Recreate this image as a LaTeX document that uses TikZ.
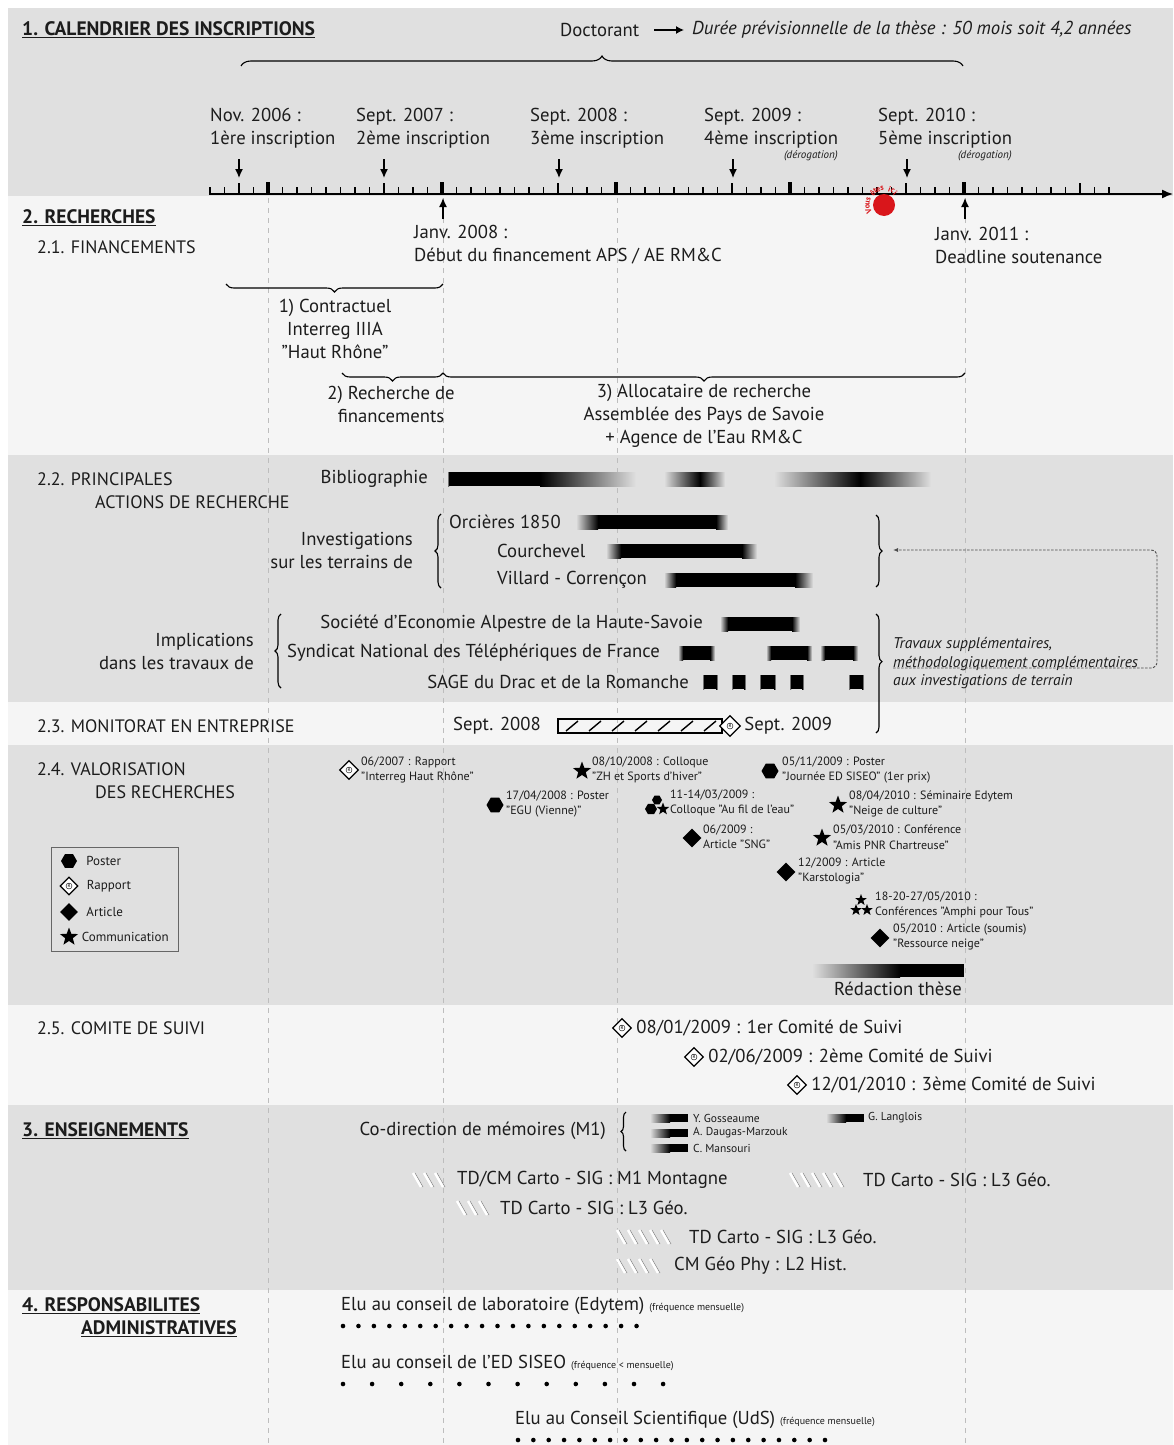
\documentclass[tikz,border=0pt]{standalone}
\usepackage{fontspec}
\setmainfont{PT Sans}
\usetikzlibrary{arrows.meta,positioning,shapes.geometric,decorations.pathreplacing}
\definecolor{bandgray}{HTML}{E0E0E0}
\definecolor{bandlight}{HTML}{F5F5F5}
\definecolor{guidegray}{HTML}{BDBDBD}
\definecolor{hereRed}{HTML}{D9161B}
\definecolor{inkgray}{HTML}{1C1C1C}

\begin{document}
\begin{tikzpicture}[
    x=1pt,y=-1pt,>=Latex,
    lbl/.style={inner sep=0pt,text=inkgray,font=\fontsize{18.7}{23}\selectfont},
    lblw/.style={lbl,anchor=west,align=left},
    lble/.style={lbl,anchor=east,align=right},
    headline/.style={inner sep=0pt,anchor=west,text=inkgray,font=\fontsize{19.5}{23}\selectfont\bfseries},
    subhead/.style={inner sep=0pt,anchor=west,text=inkgray,font=\fontsize{18}{23}\selectfont},
    evt/.style={inner sep=0pt,anchor=west,align=left,text=inkgray,font=\fontsize{12}{15.5}\selectfont},
    legtext/.style={inner sep=0pt,anchor=west,text=inkgray,font=\fontsize{13}{14}\selectfont},
    names/.style={inner sep=0pt,anchor=west,text=inkgray,font=\fontsize{11.5}{12}\selectfont},
    smallnote/.style={inner sep=0pt,text=inkgray,font=\fontsize{11}{12}\selectfont\itshape},
    posterm/.style={regular polygon,regular polygon sides=6,fill=black,inner sep=0pt,minimum size=17pt},
    articlem/.style={diamond,fill=black,inner sep=0pt,minimum size=19pt},
    commm/.style={star,star points=5,star point ratio=2.4,fill=black,inner sep=0pt,minimum size=19pt},
    rapportm/.style={diamond,draw=black,line width=1.3pt,fill=white,inner sep=0pt,minimum size=19pt,
      font=\fontsize{5}{5}\selectfont,
      path picture={\draw[line width=.4pt] (path picture bounding box.center) circle (3pt);}},
    curly/.style={decorate,decoration={brace,amplitude=#1},line width=1.1pt},
    curly/.default=8pt,
    guide/.style={draw=guidegray,line width=.6pt,dash pattern=on 5pt off 5pt},
    insarrow/.style={-{Latex[length=9pt,width=8pt]},line width=1.3pt},
    dashlink/.style={-{Latex[length=5pt,width=4pt]},line width=.9pt,dash pattern=on 2.5pt off 1.5pt,draw=black!70},
    hatchw/.style={white,line width=2.4pt},
    hatchk/.style={black!45,line width=.6pt}
  ]
  \useasboundingbox (0,0) rectangle (1173,1445);
  \fill[white] (0,0) rectangle (1173,1445);
  \fill[bandgray] (8,8) rectangle (1173,196);
  \fill[bandlight] (8,196) rectangle (1173,455);
  \fill[bandgray] (8,455) rectangle (1173,702);
  \fill[bandlight] (8,702) rectangle (1173,745);
  \fill[bandgray] (8,745) rectangle (1173,1005);
  \fill[bandlight] (8,1005) rectangle (1173,1105);
  \fill[bandgray] (8,1105) rectangle (1173,1290);
  \fill[bandlight] (8,1290) rectangle (1173,1445);

  \foreach \gx in {268,443,617,965}
    \draw[guide] (\gx,198) -- (\gx,1445);

  \node[headline] (calendrier) at (22,30) {\underline{1. CALENDRIER DES INSCRIPTIONS}};
  \node[lblw] (doctorant) at (560,30) {Doctorant};
  \node[lblw,font=\fontsize{18.7}{23}\selectfont\itshape] (duree) at (692,30)
    {Durée prévisionnelle de la thèse : 50 mois soit 4,2 années};
  \draw[insarrow,-{Latex[length=8pt,width=8pt]}] ([xshift=15pt]doctorant.east) -- ([xshift=-8pt]duree.west);
  \draw[curly=10pt] (241,66) -- (963,66);

  \node[lblw] (ins1) at (210,128.5) {Nov. 2006 :\\1ère inscription};
  \node[lblw] (ins2) at (356,128.5) {Sept. 2007 :\\2ème inscription};
  \node[lblw] (ins3) at (530,128.5) {Sept. 2008 :\\3ème inscription};
  \node[lblw] (ins4) at (704,128.5) {Sept. 2009 :\\4ème inscription};
  \node[lblw] (ins5) at (878,128.5) {Sept. 2010 :\\5ème inscription};
  \node[smallnote,anchor=east] (derog4) at (838,156) {(dérogation)};
  \node[smallnote,anchor=east] (derog5) at (1012,156) {(dérogation)};
  \foreach \n/\x in {1/239,2/384,3/559,4/733,5/907} {
    \coordinate (in\n top) at (\x,159);
    \coordinate (in\n tip) at (\x,178);
    \draw[insarrow] (in\n top) -- (in\n tip);
  }

  \draw[line width=1.3pt] \foreach \m in {0,...,62} {(210+14.5*\m,194.5) -- (210+14.5*\m,186.5)};
  \draw[line width=1.3pt] \foreach \m in {2,12,24,36,48,60} {(210+14.5*\m,194.5) -- (210+14.5*\m,182.5)};
  \foreach \m in {4,16,28,40,52}
    \fill (208.2+14.5*\m,194.5) rectangle ++(3.6,-12.5);
  \coordinate (axisL) at (209,194);
  \coordinate (axisR) at (1173,194);
  \draw[line width=1.4pt,-{Latex[length=11pt,width=9pt]}] (axisL) -- (axisR);

  \node[circle,fill=hereRed,minimum size=22pt,inner sep=0pt] (here) at (884,205) {};
  \foreach \ch/\p in {V/202,o/187,u/173,s/160,ê/134,t/122,e/110,s/97,i/70,c/58,i/46}
    \node[inner sep=0pt,text=hereRed,font=\fontsize{8}{8}\selectfont\bfseries,rotate=\p-90]
      (herech\p) at ([shift={(\p:16.5pt)}]here.center) {\ch};

  \node[headline] (recherches) at (22,218) {\underline{2. RECHERCHES}};
  \node[subhead] (financements) at (37,247) {2.1. FINANCEMENTS};
  \coordinate (j08base) at (443,219);
  \coordinate (j08tip) at (443,198);
  \coordinate (j11base) at (965,219);
  \coordinate (j11tip) at (965,198);
  \draw[insarrow] (j08base) -- (j08tip);
  \draw[insarrow] (j11base) -- (j11tip);
  \node[lblw] (janv08) at (414,245) {Janv. 2008 :\\Début du financement APS / AE RM\&C};
  \node[lblw] (janv11) at (935,245) {Janv. 2011 :\\Deadline soutenance};

  \draw[curly] (443,284) -- (226,284);
  \node[lbl,align=center] (contrat) at (335,328.5) {1) Contractuel\\Interreg IIIA\\"Haut Rhône"};
  \draw[curly] (443,373) -- (342,373);
  \node[lbl,align=center] (recherchefin) at (391,404) {2) Recherche de\\financements};
  \draw[curly] (965,373) -- (443,373);
  \node[lbl,align=center] (allocataire) at (704,415.5)
    {3) Allocataire de recherche\\Assemblée des Pays de Savoie\\+ Agence de l'Eau RM\&C};

  \node[subhead] (actions) at (37,479) {2.2. PRINCIPALES};
  \node[subhead] (actions2) at (95,502) {ACTIONS DE RECHERCHE};
  \node[lble] (biblio) at (428,479) {Bibliographie};
  \node[lble] (investig) at (413,550.5) {Investigations\\sur les terrains de};
  \draw[curly=6pt] (441,588) -- (441,514);
  \node[lblw] (orcieres) at (449,522) {Orcières 1850};
  \node[lblw] (courchevel) at (497,551) {Courchevel};
  \node[lblw] (villard) at (497,580) {Villard - Corrençon};
  \draw[curly=6pt] (876,515) -- (876,587);

  \node[lble] (implic) at (254,651) {Implications\\dans les travaux de};
  \draw[curly=6pt] (281,688) -- (281,614);
  \node[lble] (seahs) at (703,624) {Société d'Economie Alpestre de la Haute-Savoie};
  \node[lble] (sntf) at (660,653) {Syndicat National des Téléphériques de France};
  \node[lble] (sage) at (689,682) {SAGE du Drac et de la Romanche};
  \draw[curly=6pt,decoration={aspect=0.4}] (876,614) -- (876,733);

  \foreach \xa/\xb/\ra/\rb/\yc in {447/636/2/96/479, 664/725/36/25/479, 774/931/86/71/479,
      576/728/22/12/522, 606/757/15/15/551, 664/813/12/18/580,
      720/800/8/8/624, 678/715/5/5/653, 766/812/5/5/653, 820/858/5/5/653,
      702/718/2/2/682, 731/746/2/2/682, 759/776/2/2/682, 789/804/2/2/682, 848/864/2/2/682} {
    \shade[left color=bandgray,right color=black] (\xa,\yc-7) rectangle (\xa+\ra,\yc+7);
    \fill[black] (\xa+\ra-0.3,\yc-7) rectangle (\xb-\rb+0.3,\yc+7);
    \shade[left color=black,right color=bandgray] (\xb-\rb,\yc-7) rectangle (\xb,\yc+7);
  }

  \node[inner sep=0pt,anchor=west,align=left,text=inkgray,font=\fontsize{15.5}{18.5}\selectfont\itshape]
    (travaux) at (893,663.5) {Travaux supplémentaires,\\méthodologiquement complémentaires\\aux investigations de terrain};
  \coordinate (travlink) at (893,668);
  \coordinate (invtip) at (893,550);
  \draw[dashlink,rounded corners=6pt] (travlink) -- (1157,668) -- (1157,550) -- (invtip);

  \node[subhead] (monitorat) at (37,726) {2.3. MONITORAT EN ENTREPRISE};
  \node[lble] (monstart) at (541,726) {Sept. 2008};
  \draw[line width=1.6pt] (558,719) rectangle (722,733);
  \foreach \x in {566,589,...,704}
    \draw[line width=1.4pt] (\x,731) -- (\x+12,721);
  \node[rapportm,minimum size=21pt] (monend) at (730,726) {R};
  \node[lblw,right=3pt of monend] (monstop) {Sept. 2009};

  \node[subhead] (valor) at (37,769) {2.4. VALORISATION};
  \node[subhead] (valor2) at (95,792) {DES RECHERCHES};

  \node[rapportm] (ev1) at (349,770) {R};
  \node[evt] (ev1t) at (361,770) {06/2007 : Rapport\\"Interreg Haut Rhône"};
  \node[posterm] (ev2) at (495,805) {};
  \node[evt] (ev2t) at (506,804) {17/04/2008 : Poster\\"EGU (Vienne)"};
  \node[commm] (ev3) at (582,771) {};
  \node[evt] (ev3t) at (592,770) {08/10/2008 : Colloque\\"ZH et Sports d'hiver"};
  \node[posterm,minimum size=10pt] (ev4a) at (657,800) {};
  \node[posterm,minimum size=12pt] (ev4b) at (651,809) {};
  \node[commm,minimum size=13pt] (ev4c) at (663,809) {};
  \node[evt] (ev4t) at (670,803) {11-14/03/2009 :\\Colloque "Au fil de l'eau"};
  \node[posterm] (ev5) at (770,771) {};
  \node[evt] (ev5t) at (782,770) {05/11/2009 : Poster\\"Journée ED SISEO" (1er prix)};
  \node[commm] (ev6) at (838,805) {};
  \node[evt] (ev6t) at (849,804) {08/04/2010 : Séminaire Edytem\\"Neige de culture"};
  \node[articlem] (ev7) at (692,838) {};
  \node[evt] (ev7t) at (703,837) {06/2009 :\\Article "SNG"};
  \node[commm] (ev8) at (822,838) {};
  \node[evt] (ev8t) at (833,837) {05/03/2010 : Conférence\\"Amis PNR Chartreuse"};
  \node[articlem] (ev9) at (786,872) {};
  \node[evt] (ev9t) at (798,871) {12/2009 : Article\\"Karstologia"};
  \node[commm,minimum size=12pt] (ev10a) at (861,900) {};
  \node[commm,minimum size=12pt] (ev10b) at (856,910) {};
  \node[commm,minimum size=12pt] (ev10c) at (867,910) {};
  \node[evt] (ev10t) at (875,905) {18-20-27/05/2010 :\\Conférences "Amphi pour Tous"};
  \node[articlem] (ev11) at (880,938) {};
  \node[evt] (ev11t) at (893,937) {05/2010 : Article (soumis)\\"Ressource neige"};

  \shade[left color=bandgray,right color=black] (812,964) rectangle (900,977);
  \fill[black] (899.7,964) rectangle (964,977);
  \node[lbl] (redaction) at (898,989) {Rédaction thèse};

  \draw[draw=black!60,line width=.9pt] (51,847) rectangle (178,951);
  \node[posterm,minimum size=16pt] (lg1) at (69,861) {};
  \node[legtext,right=9pt of lg1] (lg1t) {Poster};
  \node[rapportm,minimum size=18pt] (lg2) at (69,886) {R};
  \node[legtext,right=8pt of lg2] (lg2t) {Rapport};
  \node[articlem,minimum size=18pt] (lg3) at (69,912) {};
  \node[legtext,right=8pt of lg3] (lg3t) {Article};
  \node[commm,minimum size=19pt] (lg4) at (69,937) {};
  \node[legtext,right=7pt of lg4] (lg4t) {Communication};

  \node[subhead] (comite) at (37,1028) {2.5. COMITE DE SUIVI};
  \node[rapportm] (cs1) at (622,1028) {R};
  \node[lblw,right=4pt of cs1] (cs1t) {08/01/2009 : 1er Comité de Suivi};
  \node[rapportm] (cs2) at (694,1057) {R};
  \node[lblw,right=4pt of cs2] (cs2t) {02/06/2009 : 2ème Comité de Suivi};
  \node[rapportm] (cs3) at (797,1085) {R};
  \node[lblw,right=4pt of cs3] (cs3t) {12/01/2010 : 3ème Comité de Suivi};

  \node[headline] (enseign) at (22,1131) {\underline{3. ENSEIGNEMENTS}};
  \node[lble] (codir) at (606,1131) {Co-direction de mémoires (M1)};
  \draw[curly=5pt] (626,1151) -- (626,1112);
  \foreach \xa/\yc in {650/1118, 650/1133, 650/1148, 826/1118} {
    \shade[left color=bandgray,right color=black] (\xa,\yc-4) rectangle (\xa+20,\yc+4);
    \fill[black] (\xa+19.7,\yc-4) rectangle (\xa+38,\yc+4);
  }
  \node[names] (st1) at (693,1118) {Y. Gosseaume};
  \node[names] (st2) at (693,1133) {A. Daugas-Marzouk};
  \node[names] (st3) at (693,1148) {C. Mansouri};
  \node[names] (st4) at (868,1118) {G. Langlois};

  \foreach \xa/\n/\yc in {413/3/1180, 790/5/1180, 457/3/1208, 617/5/1237, 617/4/1266} {
    \foreach \k in {1,...,\n} {
      \draw[hatchk] (\xa+11*\k-9,\yc-7) -- (\xa+11*\k-1,\yc+7);
      \draw[hatchw] (\xa+11*\k-11,\yc-7) -- (\xa+11*\k-3,\yc+7);
    }
  }
  \node[lblw] (td1) at (457,1180) {TD/CM Carto - SIG : M1 Montagne};
  \node[lblw] (td2) at (863,1180) {TD Carto - SIG : L3 Géo.};
  \node[lblw] (td3) at (500,1208) {TD Carto - SIG : L3 Géo.};
  \node[lblw] (td4) at (689,1237) {TD Carto - SIG : L3 Géo.};
  \node[lblw] (cm5) at (674,1266) {CM Géo Phy : L2 Hist.};

  \node[headline] (respons) at (22,1306) {\underline{4. RESPONSABILITES}};
  \node[headline] (respons2) at (81,1329) {\underline{ADMINISTRATIVES}};
  \node[lblw] (edytem) at (341,1306)
    {Elu au conseil de laboratoire (Edytem) {\fontsize{10}{10}\selectfont(fréquence mensuelle)}};
  \node[lblw] (siseo) at (341,1363)
    {Elu au conseil de l'ED SISEO {\fontsize{10}{10}\selectfont(fréquence < mensuelle)}};
  \node[lblw] (uds) at (515,1420)
    {Elu au Conseil Scientifique (UdS) {\fontsize{10}{10}\selectfont(fréquence mensuelle)}};
  \foreach \i in {0,...,19}
    \fill (343+15.45*\i,1326) circle (2.3pt);
  \foreach \i in {0,...,11}
    \fill (343+29.1*\i,1384) circle (2.3pt);
  \foreach \i in {0,...,20}
    \fill (518+15.35*\i,1440) circle (2.3pt);
\end{tikzpicture}
\end{document}
